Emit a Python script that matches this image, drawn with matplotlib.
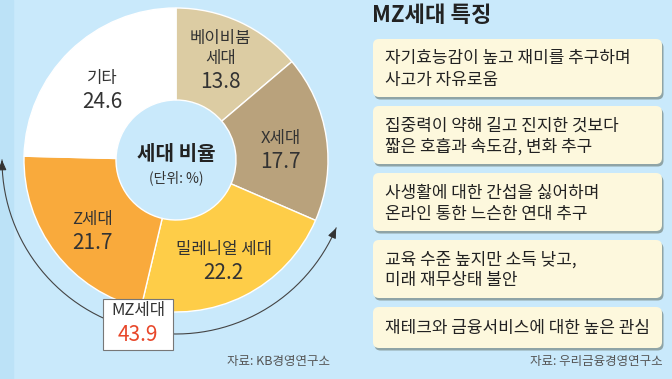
import numpy as np
import matplotlib
matplotlib.use("Agg")
import matplotlib.pyplot as plt
from matplotlib.patches import Rectangle, FancyBboxPatch

plt.rcParams["font.family"] = ["Noto Sans CJK KR", "DejaVu Sans"]

# data
gen_names = ["베이비붐\n세대", "X세대", "밀레니얼 세대", "Z세대", "기타"]
gen_values = [13.8, 17.7, 22.2, 21.7, 24.6]
gen_colors = ["#dccca3", "#b9a27c", "#fecd48", "#f9aa3c", "#ffffff"]
mz_label = "MZ세대"
mz_value = 43.9
traits = [
    "자기효능감이 높고 재미를 추구하며\n사고가 자유로움",
    "집중력이 약해 길고 진지한 것보다\n짧은 호흡과 속도감, 변화 추구",
    "사생활에 대한 간섭을 싫어하며\n온라인 통한 느슨한 연대 추구",
    "교육 수준 높지만 소득 낮고,\n미래 재무상태 불안",
    "재테크와 금융서비스에 대한 높은 관심",
]
left_source = "자료: KB경영연구소"
right_source = "자료: 우리금융경영연구소"

W, H = 672, 379
BG = "#c9e9fb"
TXT = "#333333"

fig = plt.figure(figsize=(W / 100, H / 100), dpi=100, facecolor=BG)
ax = fig.add_axes([0, 0, 1, 1])
ax.add_patch(Rectangle((0, 0), 13, H, color="#bce2f7", zorder=0))

# donut, drawn clockwise from 12 o'clock
cx, cy = 176, H - 160
R, r_in = 152, 60
wedges, _ = ax.pie(gen_values, colors=gen_colors, startangle=90, counterclock=False,
                   radius=R, center=(cx, cy), frame=True,
                   wedgeprops=dict(width=R - r_in, edgecolor="white", linewidth=1))
ax.set_xlim(0, W)
ax.set_ylim(0, H)
ax.set_aspect("equal")
ax.axis("off")

for w, name, val in zip(wedges, gen_names, gen_values):
    mid = np.deg2rad((w.theta1 + w.theta2) / 2)
    lx, ly = cx + 106 * np.cos(mid), cy + 106 * np.sin(mid)
    lines = name.split("\n")
    for i, line in enumerate(reversed(lines)):
        ax.text(lx, ly + 1 + 20 * i, line, ha="center", va="baseline",
                fontsize=12, color=TXT)
    ax.text(lx, ly - 24, f"{val}", ha="center", va="baseline", fontsize=15,
            color=TXT)

ax.text(cx, cy + 6, "세대 비율", ha="center", va="center", fontsize=14.5,
        fontweight="bold", color="#222222")
ax.text(cx, cy - 18, "(단위: %)", ha="center", va="center", fontsize=10, color=TXT)

# arc arrow around the MZ share
ra = 174
t = np.deg2rad(np.linspace(180, 337, 200))
ax.plot(cx + ra * np.cos(t), cy + ra * np.sin(t), color="#444444", lw=0.8, zorder=1)
for a0, a1 in [(183, 180), (334, 337)]:
    p0 = (cx + ra * np.cos(np.deg2rad(a0)), cy + ra * np.sin(np.deg2rad(a0)))
    p1 = (cx + ra * np.cos(np.deg2rad(a1)), cy + ra * np.sin(np.deg2rad(a1)))
    ax.annotate("", xy=p1, xytext=p0,
                arrowprops=dict(arrowstyle="-|>,head_length=0.6,head_width=0.25",
                                color="#333333", lw=0.8, shrinkA=0, shrinkB=0))

ax.add_patch(Rectangle((103, H - 350), 70, 51, facecolor="white",
                       edgecolor="#777777", lw=0.8, zorder=3))
ax.text(138, H - 311, mz_label, ha="center", va="center", fontsize=12,
        color=TXT, zorder=4)
ax.text(138, H - 335, f"{mz_value}", ha="center", va="center", fontsize=15,
        color="#e8472a", zorder=4)

ax.text(330, H - 362, left_source, ha="right", va="center", fontsize=9,
        color="#555555")

# right panel
ax.text(372, H - 15, "MZ세대 특징", ha="left", va="center", fontsize=16,
        fontweight="bold", color="#222222")
box_tops = [39, 106, 173, 240, 307]
box_heights = [58, 58, 58, 58, 41]
for top, hgt, txt in zip(box_tops, box_heights, traits):
    x0, w = 373, 289
    y0 = H - top - hgt
    ax.add_patch(FancyBboxPatch((x0 + 1.5, y0 - 2.5), w, hgt,
                                boxstyle="round,pad=0,rounding_size=6",
                                facecolor="#8fa4a6", edgecolor="none", zorder=2))
    ax.add_patch(FancyBboxPatch((x0, y0), w, hgt,
                                boxstyle="round,pad=0,rounding_size=6",
                                facecolor="#fdf8dd", edgecolor="none", zorder=3))
    lines = txt.split("\n")
    first = top + hgt / 2 + 6 - 10.5 * (len(lines) - 1)
    for i, line in enumerate(lines):
        ax.text(385, H - (first + 21 * i), line, ha="left", va="baseline",
                fontsize=12.2, color="#222222", zorder=4)

ax.text(663, H - 362, right_source, ha="right", va="center", fontsize=9,
        color="#555555")

fig.savefig("out.png", dpi=100, facecolor=BG)
